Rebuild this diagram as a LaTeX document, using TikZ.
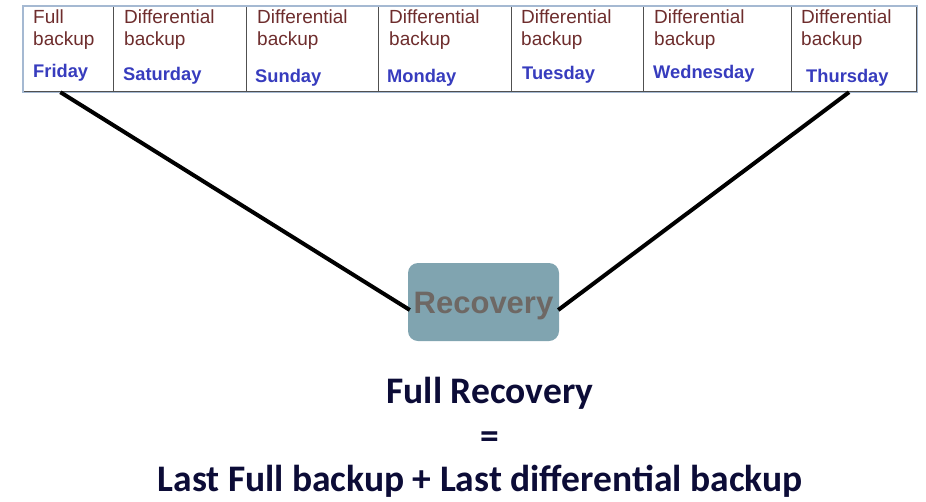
\documentclass[tikz,border=0pt]{standalone}
\usepackage{fontspec}
\setmainfont{Liberation Sans}
\newfontfamily\calfont{Carlito}
\usetikzlibrary{calc}
\definecolor{kindtext}{RGB}{110,45,45}
\definecolor{daytext}{RGB}{55,60,190}
\definecolor{tableedge}{RGB}{165,185,210}
\definecolor{celldiv}{RGB}{80,80,80}
\definecolor{recfill}{RGB}{128,164,176}
\definecolor{rectext}{RGB}{110,104,100}
\definecolor{formula}{RGB}{12,12,55}
\begin{document}
\begin{tikzpicture}[x=1pt,y=-1pt,
  cell/.style={draw=celldiv,line width=1.2pt,minimum height=85pt,inner sep=0pt,anchor=north west},
  kind/.style={text=kindtext,font=\fontsize{19}{22}\selectfont,align=left,anchor=north west,inner sep=0pt},
  day/.style={text=daytext,font=\bfseries\fontsize{18.3}{20}\selectfont,anchor=base west,inner sep=0pt},
  link/.style={line width=4pt,black},
  recbox/.style={fill=recfill,rounded corners=10pt,minimum width=151pt,minimum height=78pt,inner sep=0pt,
    text=rectext,font=\bfseries\fontsize{31}{34}\selectfont},
  eqtext/.style={text=formula,font=\calfont\bfseries\fontsize{37.5}{40}\selectfont,anchor=base,inner sep=0pt}]
\useasboundingbox (0,0) rectangle (926,501);
\fill[white] (0,0) rectangle (926,501);

% week table
\node[cell,minimum width=90pt]  (c1) at (23,6)  {};
\node[cell,minimum width=133pt] (c2) at (113,6) {};
\node[cell,minimum width=132pt] (c3) at (246,6) {};
\node[cell,minimum width=133pt] (c4) at (378,6) {};
\node[cell,minimum width=132pt] (c5) at (511,6) {};
\node[cell,minimum width=148pt] (c6) at (643,6) {};
\node[cell,minimum width=125pt] (c7) at (791,6) {};
\draw[tableedge,line width=1.2pt] (c1.north west) rectangle (c7.south east);

% backup kind in each cell
\node[kind] (k1) at (33,10)  {Full\\backup};
\node[kind] (k2) at (124,10) {Differential\\backup};
\node[kind] (k3) at (257,10) {Differential\\backup};
\node[kind] (k4) at (389,10) {Differential\\backup};
\node[kind] (k5) at (521,10) {Differential\\backup};
\node[kind] (k6) at (654,10) {Differential\\backup};
\node[kind] (k7) at (801,10) {Differential\\backup};

% day of the week
\node[day] (d1) at (33,77)  {Friday};
\node[day] (d2) at (123,80) {Saturday};
\node[day] (d3) at (255,82) {Sunday};
\node[day] (d4) at (387,82) {Monday};
\node[day] (d5) at (522,79) {Tuesday};
\node[day] (d6) at (653,78) {Wednesday};
\node[day] (d7) at (806,82) {Thursday};

% recovery box and its links
\node[recbox] (rec) at (483.5,302) {\raisebox{-4pt}[\height][\depth]{Recovery}};
\coordinate (fullpt) at ($(c1.south west)!0.41!(c1.south east)$);
\coordinate (lastpt) at ($(c7.south west)!0.46!(c7.south east)$);
\draw[link] (fullpt) -- ($(rec.west)+(2,8)$);
\draw[link] (lastpt) -- ($(rec.east)+(-1,8)$);

% formula
\node[eqtext] (f1) at (490,403) {Full Recovery};
\node[eqtext] (f2) at (490,448) {=};
\node[eqtext] (f3) at (480,491) {Last Full backup + Last differential backup};
\end{tikzpicture}
\end{document}
